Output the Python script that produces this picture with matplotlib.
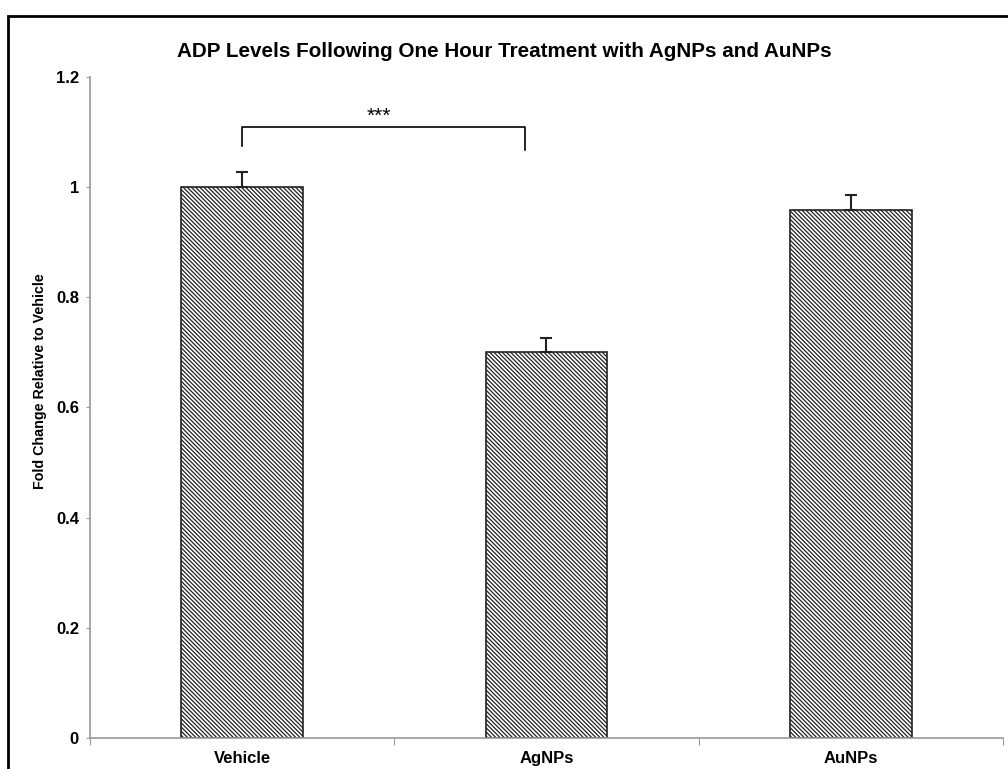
import matplotlib
matplotlib.use("Agg")
import matplotlib.pyplot as plt
from matplotlib.patches import Rectangle

# data
groups = ["Vehicle", "AgNPs", "AuNPs"]
fold_change = [1.0, 0.70, 0.958]
err_upper = [0.028, 0.026, 0.027]

plt.rcParams['font.family'] = ['Liberation Sans', 'DejaVu Sans']
plt.rcParams['hatch.linewidth'] = 0.9
plt.rcParams['hatch.color'] = '#222222'

fig = plt.figure(figsize=(10.08, 7.69), dpi=100, facecolor='white')
ax = fig.add_axes([0.0893, 0.0403, 0.9057, 0.8597])

x = list(range(len(groups)))
ax.bar(x, fold_change, width=0.4, color='white', edgecolor='#222222',
       linewidth=1.2, hatch='\\' * 8, zorder=2)
ax.errorbar(x, fold_change, yerr=[[0] * len(err_upper), err_upper], fmt='none',
            ecolor='#222222', elinewidth=1.5, capsize=4.5, capthick=1.5, zorder=3)

# significance bracket Vehicle vs AgNPs
ax.plot([0, 0, 0.93, 0.93], [1.074, 1.109, 1.109, 1.068], color='black', lw=1.2,
        zorder=3)
ax.text(0.45, 1.128, '***', ha='center', va='center', fontsize=15)

ax.set_xlim(-0.5, 2.5)
ax.set_ylim(0, 1.2)
ax.set_yticks([0, 0.2, 0.4, 0.6, 0.8, 1.0, 1.2])
ax.set_yticklabels(['0', '0.2', '0.4', '0.6', '0.8', '1', '1.2'],
                   fontsize=12, fontweight='bold')
ax.set_xticks([-0.5, 0.5, 1.5, 2.5])
ax.set_xticklabels([])
ax.set_xticks(x, minor=True)
ax.set_xticklabels(groups, minor=True, fontsize=12, fontweight='bold')
ax.tick_params(axis='x', which='minor', length=0, pad=9)
ax.tick_params(axis='x', which='major', length=5, color='#999999')
ax.tick_params(axis='y', length=3, color='#999999', pad=5)

for s in ['top', 'right']:
    ax.spines[s].set_visible(False)
for s in ['left', 'bottom']:
    ax.spines[s].set_color('#999999')
    ax.spines[s].set_linewidth(1.2)

ax.set_ylabel('Fold Change Relative to Vehicle', fontsize=10.3, fontweight='bold')
ax.yaxis.set_label_coords(-0.047, 0.54)
fig.text(0.5, 0.933, 'ADP Levels Following One Hour Treatment with AgNPs and AuNPs',
         ha='center', va='center', fontsize=14.9, fontweight='bold')

# outer frame (cut off on the right and bottom)
fig.patches.append(Rectangle((8 / 1008, -0.05), 1.05, 1 - 16 / 769 + 0.05,
                             transform=fig.transFigure, fill=False,
                             edgecolor='black', linewidth=2))

fig.savefig('out.png', dpi=100, facecolor='white')
